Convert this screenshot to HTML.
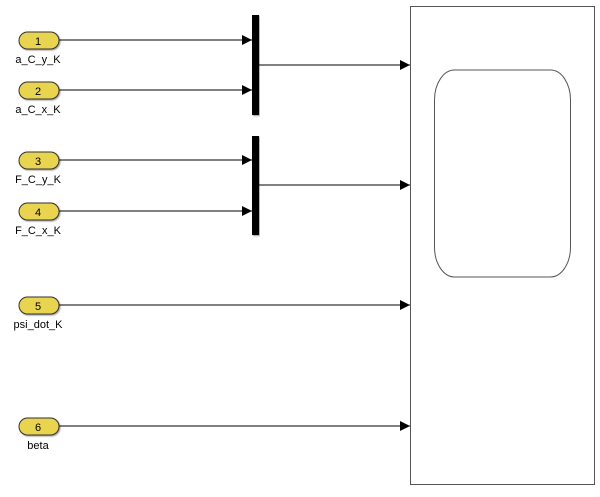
<!DOCTYPE html>
<html><head><style>body{margin:0;background:#fff}</style></head><body>
<svg width="600" height="492" xmlns="http://www.w3.org/2000/svg" font-family="Liberation Sans, sans-serif">
<defs><marker id="a" markerWidth="10" markerHeight="10" refX="10" refY="5" orient="auto" markerUnits="userSpaceOnUse"><path d="M0,0L10,5L0,10z" fill="#000"/></marker>
<filter id="s"><feDropShadow dx="1" dy="1" stdDeviation="0.8" flood-opacity="0.4"/></filter></defs>
<g stroke="#000" stroke-width="1" marker-end="url(#a)">
<line x1="59" y1="40" x2="252" y2="40"/><line x1="59" y1="90" x2="252" y2="90"/>
<line x1="59" y1="160" x2="252" y2="160"/><line x1="59" y1="211" x2="252" y2="211"/>
<line x1="259" y1="65" x2="410" y2="65"/><line x1="259" y1="185" x2="410" y2="185"/>
<line x1="59" y1="305" x2="410" y2="305"/><line x1="59" y1="426" x2="410" y2="426"/>
</g>
<rect x="252" y="15" width="7" height="100" fill="#000" filter="url(#s)"/>
<rect x="252" y="136" width="7" height="99" fill="#000" filter="url(#s)"/>
<rect x="410.5" y="6.5" width="184" height="478" fill="#fff" stroke="#555"/>
<rect x="434.5" y="70" width="136" height="207" rx="20" ry="30" fill="none" stroke="#555"/>
<g font-size="11" text-anchor="middle">
<g fill="#e9d44f" stroke="#333" filter="url(#s)">
<rect x="19" y="32" width="40" height="17" rx="8.5"/><rect x="19" y="82" width="40" height="17" rx="8.5"/>
<rect x="19" y="152" width="40" height="17" rx="8.5"/><rect x="19" y="203" width="40" height="17" rx="8.5"/>
<rect x="19" y="297" width="40" height="17" rx="8.5"/><rect x="19" y="418" width="40" height="17" rx="8.5"/>
</g>
<text x="38" y="45">1</text><text x="38" y="95">2</text><text x="38" y="165">3</text><text x="38" y="216">4</text><text x="38" y="310">5</text><text x="38" y="431">6</text>
<text x="38" y="63">a_C_y_K</text><text x="38" y="113">a_C_x_K</text><text x="38" y="183">F_C_y_K</text><text x="38" y="234">F_C_x_K</text><text x="38" y="328">psi_dot_K</text><text x="38" y="449">beta</text>
</g>
</svg>
</body></html>
